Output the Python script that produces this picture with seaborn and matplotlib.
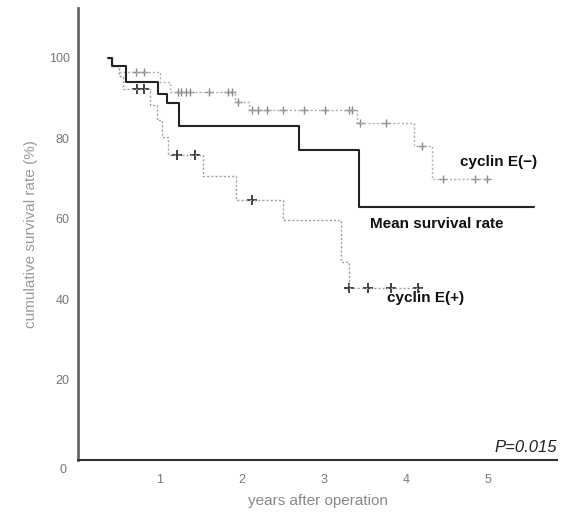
import matplotlib
matplotlib.use("Agg")
import matplotlib.pyplot as plt
import matplotlib.transforms as mtransforms
import seaborn as sns
import pandas as pd

# ---- data ----
mean_t = [0.37, 0.42, 0.585, 0.98, 1.09, 1.235, 2.69, 3.43, 5.56]
mean_s = [100, 98.0, 93.9, 91.0, 88.7, 83.1, 77.1, 62.8, 62.8]

neg_t = [0.37, 0.42, 0.50, 1.00, 1.12, 1.91, 2.08, 3.40, 4.10, 4.32, 5.00]
neg_s = [100, 98.0, 96.5, 94.0, 91.6, 89.1, 87.0, 83.9, 78.0, 70.0, 70.0]
neg_cens_t = [0.71, 0.80, 1.22, 1.25, 1.32, 1.37, 1.60, 1.83, 1.88, 1.95, 2.12, 2.20,
              2.30, 2.50, 2.75, 3.01, 3.30, 3.34, 3.44, 3.76, 4.20, 4.45, 4.84, 4.99]
neg_cens_s = [96.5, 96.5, 91.6, 91.6, 91.6, 91.6, 91.6, 91.6, 91.6, 89.1, 87.0, 87.0,
              87.0, 87.0, 87.0, 87.0, 87.0, 87.0, 83.9, 83.9, 78.0, 70.0, 70.0, 70.0]

pos_t = [0.37, 0.42, 0.50, 0.55, 0.88, 0.96, 1.02, 1.10, 1.52, 1.93, 2.50, 3.21, 3.30, 4.18]
pos_s = [100, 98.0, 95.5, 92.2, 88.3, 84.6, 80.4, 75.9, 70.5, 64.7, 59.7, 49.3, 42.7, 42.7]
pos_cens_t = [0.72, 0.80, 1.21, 1.43, 2.12, 3.30, 3.54, 3.82, 4.15]
pos_cens_s = [92.2, 92.2, 75.9, 75.9, 64.7, 42.7, 42.7, 42.7, 42.7]

x_ticks = [1, 2, 3, 4, 5]
y_ticks = [0, 20, 40, 60, 80, 100]

# ---- plot ----
sns.set_style("white")
plt.rcParams["font.family"] = ["Liberation Sans", "DejaVu Sans"]

fig = plt.figure(figsize=(5.65, 5.13), dpi=100)
ax = fig.add_axes([78 / 565, 53 / 513, 479 / 565, 452 / 513])

mean_df = pd.DataFrame({"t": mean_t, "s": mean_s})
neg_df = pd.DataFrame({"t": neg_t, "s": neg_s})
pos_df = pd.DataFrame({"t": pos_t, "s": pos_s})

sns.lineplot(data=neg_df, x="t", y="s", ax=ax, drawstyle="steps-post",
             color="#b0b0b0", lw=1.0, linestyle=(0, (1.5, 1.5)), sort=False)
sns.lineplot(data=pos_df, x="t", y="s", ax=ax, drawstyle="steps-post",
             color="#a0a0a0", lw=1.0, linestyle=(0, (1.5, 1.5)), sort=False)
sns.lineplot(data=mean_df, x="t", y="s", ax=ax, drawstyle="steps-post",
             color="#222222", lw=1.5, sort=False)

sns.scatterplot(x=neg_cens_t, y=neg_cens_s, ax=ax, marker="+", s=40,
                color="#888888", linewidth=1.0)
sns.scatterplot(x=pos_cens_t, y=pos_cens_s, ax=ax, marker="+", s=55,
                color="#333333", linewidth=1.3)

ax.set_xlim(0, 5.84)
ax.set_ylim(0, 112.4)
ax.set_xticks(x_ticks)
ax.set_xticklabels([str(v) for v in x_ticks])
ax.set_yticks(y_ticks)
ax.set_yticklabels([str(v) for v in y_ticks])
ax.tick_params(axis="y", direction="out", length=5, width=3.5, color="#111111",
               labelsize=9, labelcolor="#777777", pad=1)
ax.tick_params(axis="x", direction="out", length=4, width=3, color="#111111",
               labelsize=9, labelcolor="#777777", pad=6)

# the shared "0" label sits a little below the origin in the reference
zero_lbl = ax.get_yticklabels()[0]
zero_lbl.set_transform(zero_lbl.get_transform() +
                       mtransforms.ScaledTranslation(-2 / 72, -6 / 72, fig.dpi_scale_trans))

for side in ["top", "right"]:
    ax.spines[side].set_visible(False)
ax.spines["left"].set_color("#666666")
ax.spines["left"].set_linewidth(2.0)
ax.spines["bottom"].set_color("#333333")
ax.spines["bottom"].set_linewidth(1.5)

ax.set_xlabel("years after operation", fontsize=11, color="#888888", labelpad=6)
ax.set_ylabel("cumulative survival rate (%)", fontsize=11, color="#999999", labelpad=8)

ax.text(4.66, 74.1, "cyclin E(\u2212)", fontsize=11, fontweight="bold", color="#111111",
        ha="left", va="center")
ax.text(3.56, 58.7, "Mean survival rate", fontsize=11, fontweight="bold", color="#111111",
        ha="left", va="center")
ax.text(3.77, 40.3, "cyclin E(+)", fontsize=11, fontweight="bold", color="#111111",
        ha="left", va="center")
ax.text(5.84, 1.2, "P=0.015", fontsize=12, fontstyle="italic", color="#222222",
        ha="right", va="bottom")

fig.savefig("out.png", dpi=100)
